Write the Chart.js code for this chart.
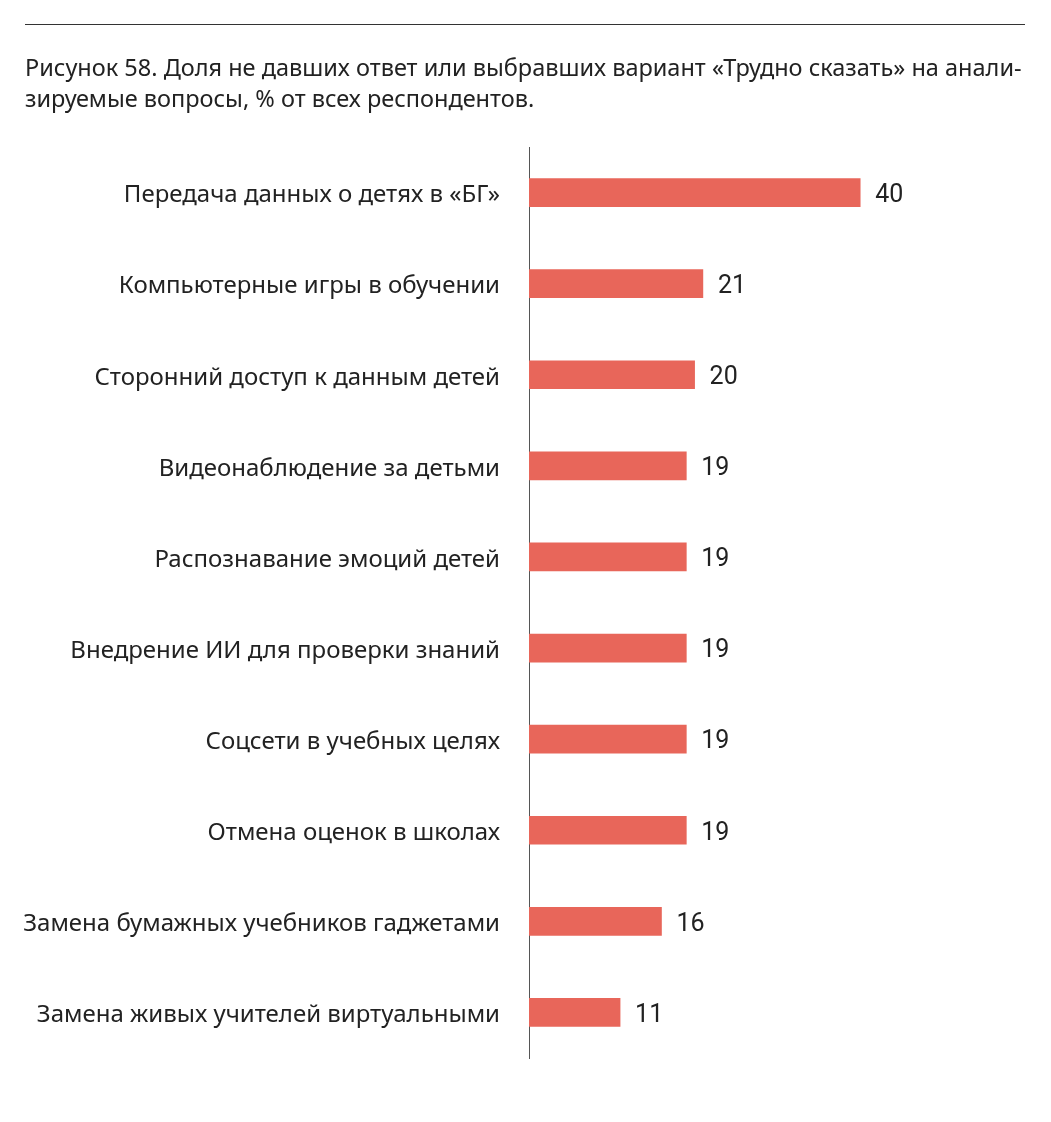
<!DOCTYPE html>
<html><head><meta charset="utf-8">
<script src="https://cdn.jsdelivr.net/npm/chart.js@4.4.0/dist/chart.umd.min.js"></script>
<style>
html,body{margin:0;padding:0;background:#fff;}
#wrap{position:relative;width:1051px;height:1122px;}
#rule{position:absolute;left:25px;top:24px;width:1000px;height:0;border-top:1.5px solid #333;}
#title{position:absolute;left:25px;top:52px;width:1020px;font-family:'Noto Sans',sans-serif;font-size:23.5px;line-height:31px;color:#222;white-space:nowrap;}
canvas{position:absolute;left:0;top:0;}
</style></head>
<body><div id="wrap">
<canvas id="c" width="1051" height="1122"></canvas>
<div id="rule"></div>
<div id="title">Рисунок 58. Доля не давших ответ или выбравших вариант «Трудно сказать» на анали-<br>зируемые вопросы, % от всех респондентов.</div>
</div>
<script>
const categories = [
  'Передача данных о детях в «БГ»',
  'Компьютерные игры в обучении',
  'Сторонний доступ к данным детей',
  'Видеонаблюдение за детьми',
  'Распознавание эмоций детей',
  'Внедрение ИИ для проверки знаний',
  'Соцсети в учебных целях',
  'Отмена оценок в школах',
  'Замена бумажных учебников гаджетами',
  'Замена живых учителей виртуальными'
];
const values = [40, 21, 20, 19, 19, 19, 19, 19, 16, 11];

const valueLabels = {
  id: 'valueLabels',
  afterDatasetsDraw(chart) {
    const ctx = chart.ctx;
    const meta = chart.getDatasetMeta(0);
    ctx.save();
    ctx.font = "25px 'Liberation Sans Narrow', 'Roboto', sans-serif";
    ctx.fillStyle = '#222';
    ctx.textAlign = 'left';
    ctx.textBaseline = 'middle';
    meta.data.forEach((bar, i) => {
      ctx.fillText(String(values[i]), bar.x + 15, bar.y + 3);
    });
    ctx.restore();
  }
};

new Chart(document.getElementById('c'), {
  type: 'bar',
  data: {
    labels: categories,
    datasets: [{
      data: values,
      backgroundColor: '#E8665A',
      borderWidth: 0,
      barThickness: 28
    }]
  },
  options: {
    indexAxis: 'y',
    responsive: false,
    animation: false,
    layout: { padding: { left: 0, right: 108, top: 147, bottom: 64 } },
    plugins: { legend: { display: false }, tooltip: { enabled: false }, title: { display: false } },
    scales: {
      x: { display: false, min: 0, max: 50 },
      y: {
        grid: { display: false, drawTicks: false },
        border: { display: true, color: '#555', width: 1 },
        ticks: {
          padding: 29,
          labelOffset: 3,
          color: '#222',
          font: { family: "'Noto Sans', sans-serif", size: 24 }
        },
        afterFit(scale) { scale.width = 529; }
      }
    }
  },
  plugins: [valueLabels]
});
</script>
</body></html>
